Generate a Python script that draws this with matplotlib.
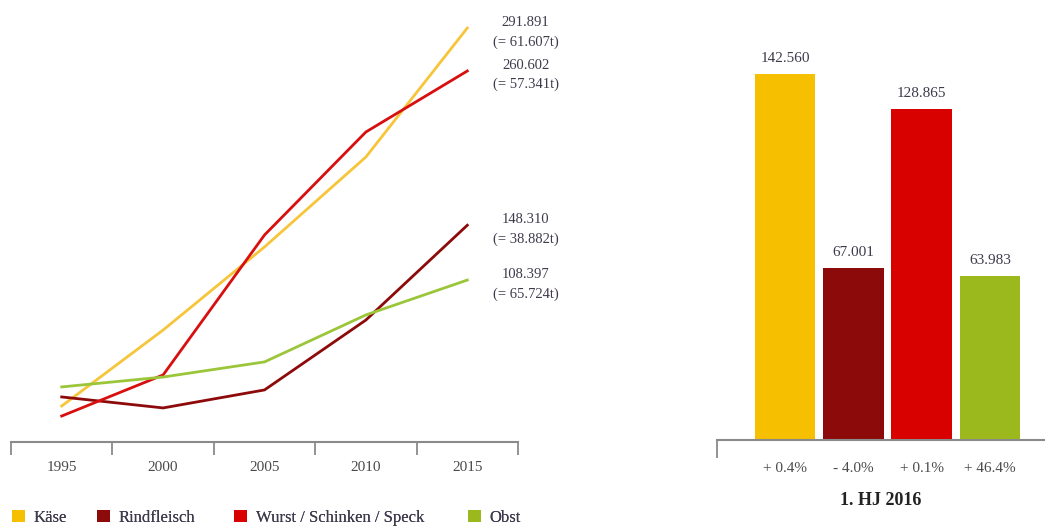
import matplotlib
matplotlib.use("Agg")
import matplotlib.pyplot as plt
from matplotlib.patches import Patch

plt.rcParams['font.family'] = ['Liberation Serif', 'DejaVu Serif']

# Entwicklung 1995-2015 (in Tsd.)
years = [1995, 2000, 2005, 2010, 2015]
kaese = [16.7, 72.0, 132.5, 198.0, 291.891]
rind = [23.3, 15.3, 28.4, 79.3, 148.310]
wurst = [9.4, 39.3, 141.2, 216.2, 260.602]
obst = [30.6, 37.8, 48.8, 83.0, 108.397]
end_labels = ['291.891\n(= 61.607t)', '148.310\n(= 38.882t)',
              '260.602\n(= 57.341t)', '108.397\n(= 65.724t)']

# 1. Halbjahr 2016
hj_names = ['Käse', 'Rindfleisch', 'Wurst / Schinken / Speck', 'Obst']
hj_values = [142.560, 67.001, 128.865, 63.983]
hj_value_labels = ['142.560', '67.001', '128.865', '63.983']
hj_change = ['+ 0.4%', '- 4.0%', '+ 0.1%', '+ 46.4%']

colors = ['#f6bf00', '#8c0a0a', '#d90000', '#9bb81c']
line_colors = ['#f7c53a', '#8c0a0a', '#d80f0f', '#9cc63a']
text_col = '#3f3a4c'
axis_col = '#8a8a8a'

fig = plt.figure(figsize=(10.45, 5.30), dpi=100)

# --- Linien ---
ax = fig.add_axes([11/1045, 1-442/530, 507/1045, 432/530])
series = [kaese, rind, wurst, obst]
for s, c, lab in zip(series, line_colors, end_labels):
    ax.plot(years, s, color=c, lw=2.0, solid_joinstyle='miter')
    ax.annotate(lab, xy=(years[-1], s[-1]), xytext=(42, -3), textcoords='offset points',
                ha='center', va='center', fontsize=10.5, color=text_col,
                linespacing=1.6, annotation_clip=False)
ax.set_xlim(1992.5, 2017.5)
ax.set_ylim(-9.5, 305)
for sp in ['top', 'left', 'right']:
    ax.spines[sp].set_visible(False)
ax.spines['bottom'].set_color(axis_col)
ax.spines['bottom'].set_linewidth(1.5)
ax.set_yticks([])
ax.set_xticks([1992.5, 1997.5, 2002.5, 2007.5, 2012.5, 2017.5])
ax.set_xticklabels([])
ax.tick_params(axis='x', which='major', length=9, width=1.3, color=axis_col)
ax.set_xticks(years, minor=True)
ax.set_xticklabels([str(y) for y in years], minor=True)
ax.tick_params(axis='x', which='minor', length=0, pad=14, labelsize=11, labelcolor='#4a4a4a')

# --- Balken ---
bx = fig.add_axes([717/1045, 1-440/530, 328/1045, 430/530])
pos = [0, 1, 2, 3]
bx.bar(pos, hj_values, width=0.89, color=colors)
for p, v, t in zip(pos, hj_values, hj_value_labels):
    bx.text(p, v + 3.5, t, ha='center', va='bottom', fontsize=11, color=text_col)
bx.set_xlim(-0.996, 3.806)
bx.set_ylim(0, 167.5)
for sp in ['top', 'left', 'right']:
    bx.spines[sp].set_visible(False)
bx.spines['bottom'].set_color(axis_col)
bx.spines['bottom'].set_linewidth(1.5)
bx.set_yticks([])
bx.set_xticks([-0.996])
bx.set_xticklabels([])
bx.tick_params(axis='x', which='major', length=13, width=1.3, color=axis_col)
bx.set_xticks(pos, minor=True)
bx.set_xticklabels(hj_change, minor=True)
bx.tick_params(axis='x', which='minor', length=0, pad=16, labelsize=11, labelcolor='#4a4a4a')
bx.set_xlabel('1. HJ 2016', fontsize=13, fontweight='bold', color='#222222', labelpad=12)

# --- Legende: ein Eintrag je Block, frei positioniert ---
leg_x = [12, 97, 234, 468]
for name, c, x in zip(hj_names, colors, leg_x):
    leg = fig.legend([Patch(facecolor=c, edgecolor='none')], [name],
                     loc='lower left', bbox_to_anchor=(x/1045, 4/530),
                     frameon=False, fontsize=12, handlelength=0.75, handleheight=0.75,
                     handletextpad=0.55, borderpad=0, borderaxespad=0,
                     labelcolor=text_col)
    fig.add_artist(leg)

fig.savefig('out.png', dpi=100)
